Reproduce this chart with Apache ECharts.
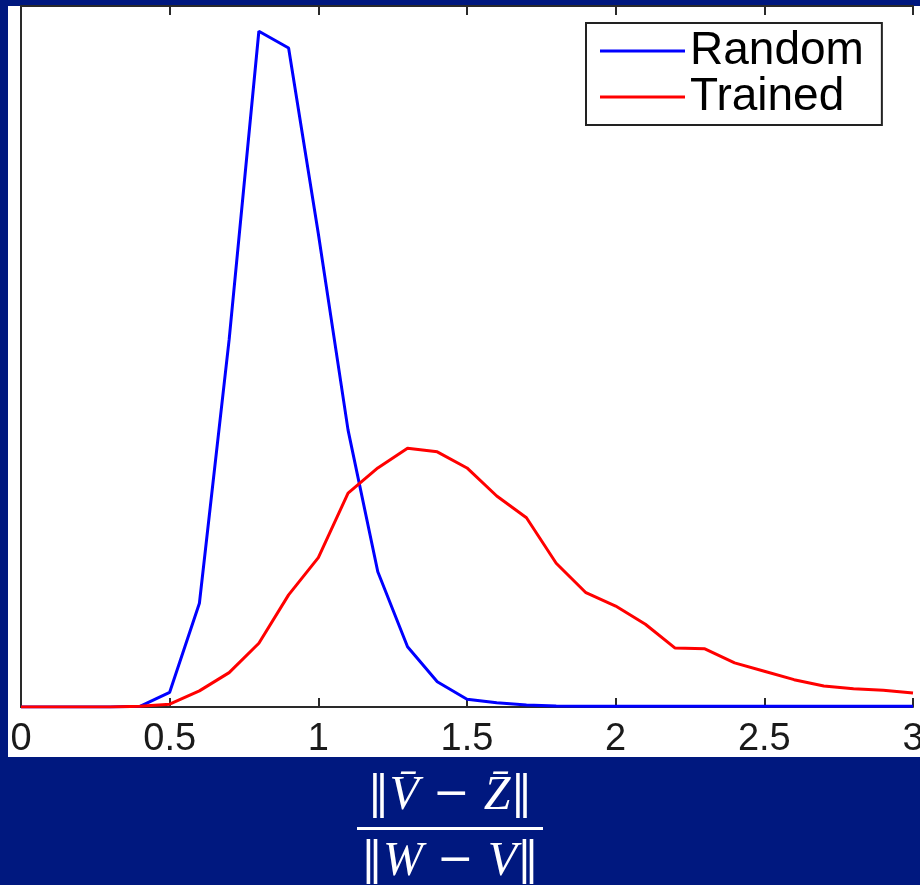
<!DOCTYPE html>
<html>
<head>
<meta charset="utf-8">
<script src="https://cdn.jsdelivr.net/npm/echarts@6/dist/echarts.min.js"></script>
<style>
  html, body { margin: 0; padding: 0; background: #00187f; }
  #chart { width: 920px; height: 885px; }
</style>
</head>
<body>
<div id="chart"></div>
<script>
// ratio values, 0 .. 3 in 0.1 steps
const ratio = [0, 0.1, 0.2, 0.3, 0.4, 0.5, 0.6, 0.7, 0.8, 0.9, 1.0, 1.1, 1.2, 1.3, 1.4, 1.5,
  1.6, 1.7, 1.8, 1.9, 2.0, 2.1, 2.2, 2.3, 2.4, 2.5, 2.6, 2.7, 2.8, 2.9, 3.0]
// relative frequency (arbitrary units, y axis has no labels)
const randomVals = [0, 0, 0, 0, 0.001, 0.021, 0.148, 0.524, 0.964, 0.940, 0.675, 0.395, 0.193,
  0.086, 0.036, 0.011, 0.006, 0.003, 0.0015, 0.001, 0.001, 0.001, 0.001, 0.001, 0.001, 0.001,
  0.001, 0.001, 0.001, 0.001, 0.001]
const trainedVals = [0, 0, 0, 0, 0.001, 0.004, 0.023, 0.049, 0.091, 0.160, 0.213, 0.305, 0.341,
  0.369, 0.364, 0.341, 0.301, 0.270, 0.205, 0.163, 0.144, 0.118, 0.084, 0.083, 0.063, 0.051,
  0.039, 0.030, 0.026, 0.024, 0.020]
const seriesNames = ['Random', 'Trained']
const xTicks = [0, 0.5, 1, 1.5, 2, 2.5, 3]

const chart = echarts.init(document.getElementById('chart'))
const pairs = vals => ratio.map((x, i) => [x, vals[i]])
const axisCol = '#2a2a2a'

chart.setOption({
  animation: false,
  backgroundColor: '#00187f',
  grid: { left: 21, right: 7, top: 6, bottom: 178, outerBoundsMode: 'none', containLabel: false },
  legend: {
    orient: 'vertical', left: 586, top: 23,
    padding: [5, 18, 5, 14], itemGap: 0,
    icon: 'rect', itemWidth: 85, itemHeight: 3,
    backgroundColor: '#fff', borderColor: '#222', borderWidth: 2,
    textStyle: { fontFamily: 'Liberation Sans', fontSize: 46, lineHeight: 46, color: '#000' },
    data: seriesNames,
  },
  xAxis: [{
    type: 'value', min: xTicks[0], max: xTicks[xTicks.length - 1], interval: 0.5,
    axisLine: { show: true, onZero: false, lineStyle: { color: axisCol, width: 2 } },
    axisTick: { show: true, inside: true, length: 9, lineStyle: { color: axisCol, width: 2 } },
    axisLabel: { margin: 14, fontFamily: 'Liberation Sans', fontSize: 38, color: '#1a1a1a',
      showMinLabel: true, showMaxLabel: true },
    splitLine: { show: false },
  }, {
    type: 'value', position: 'top', min: 0, max: 3, interval: 0.5,
    axisLine: { show: true, onZero: false, lineStyle: { color: axisCol, width: 2 } },
    axisTick: { show: true, inside: true, length: 9, lineStyle: { color: axisCol, width: 2 } },
    axisLabel: { show: false }, splitLine: { show: false },
  }],
  yAxis: [{
    type: 'value', min: 0, max: 1,
    axisLine: { show: true, lineStyle: { color: axisCol, width: 2 } },
    axisTick: { show: false }, axisLabel: { show: false }, splitLine: { show: false },
  }, {
    type: 'value', position: 'right', min: 0, max: 1,
    axisLine: { show: true, lineStyle: { color: axisCol, width: 2 } },
    axisTick: { show: false }, axisLabel: { show: false }, splitLine: { show: false },
  }],
  graphic: [
    { type: 'rect', z: -10, shape: { x: 8, y: 6, width: 912, height: 751 }, style: { fill: '#fff' } },
    {
      type: 'text', x: 450, y: 796, z: 10,
      style: {
        text: '{n|‖}{i|V̄}{n| − }{i|Z̄}{n|‖}',
        align: 'center', verticalAlign: 'middle', fill: '#fff',
        rich: {
          n: { fontFamily: 'DejaVu Serif', fontSize: 44, fill: '#fff' },
          i: { fontFamily: 'Liberation Serif', fontStyle: 'italic', fontSize: 48, fill: '#fff' },
        },
      },
    },
    { type: 'rect', z: 10, shape: { x: 357, y: 827, width: 186, height: 3 }, style: { fill: '#fff' } },
    {
      type: 'text', x: 450, y: 862, z: 10,
      style: {
        text: '{n|‖}{i|W}{n| − }{i|V}{n|‖}',
        align: 'center', verticalAlign: 'middle', fill: '#fff',
        rich: {
          n: { fontFamily: 'DejaVu Serif', fontSize: 44, fill: '#fff' },
          i: { fontFamily: 'Liberation Serif', fontStyle: 'italic', fontSize: 48, fill: '#fff' },
        },
      },
    },
  ],
  series: [
    { name: seriesNames[0], type: 'line', data: pairs(randomVals), symbol: 'none',
      lineStyle: { color: '#0000ff', width: 3 }, itemStyle: { color: '#0000ff' } },
    { name: seriesNames[1], type: 'line', data: pairs(trainedVals), symbol: 'none',
      lineStyle: { color: '#ff0000', width: 3 }, itemStyle: { color: '#ff0000' } },
  ],
})
</script>
</body>
</html>
